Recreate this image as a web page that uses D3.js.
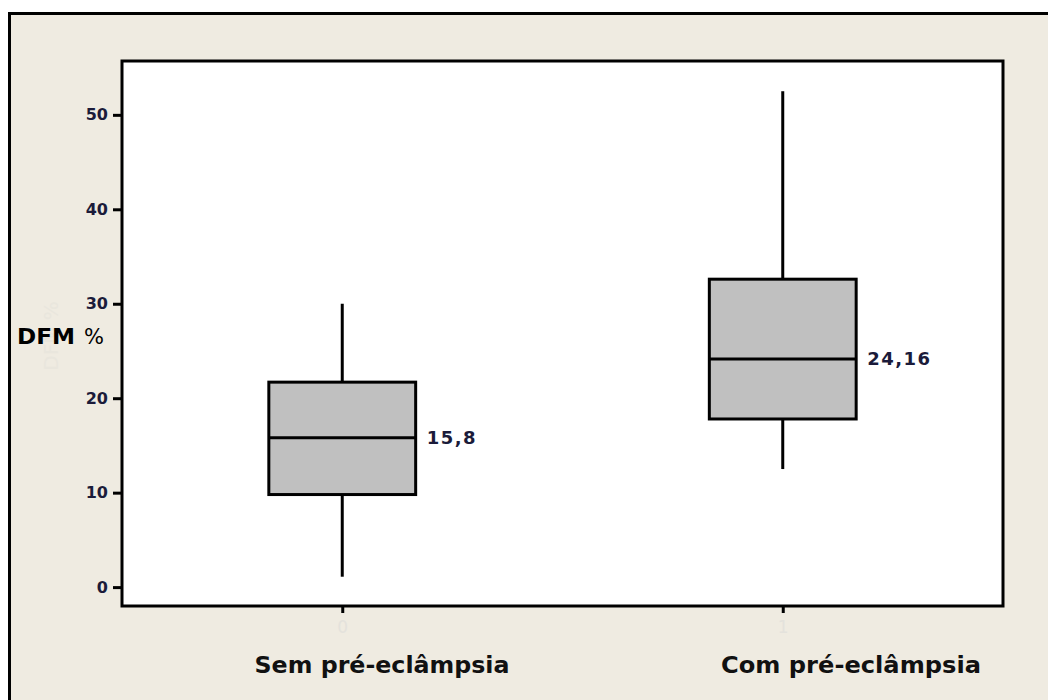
<!DOCTYPE html>
<html lang="pt">
<head>
<meta charset="utf-8">
<title>DFM % por grupo</title>
<script src="https://cdn.jsdelivr.net/npm/d3@7"></script>
<style>
  html, body { margin: 0; padding: 0; background: #ffffff; }
  svg { display: block; }
</style>
</head>
<body>
<div id="chart"></div>
<script>
// ── Data ───────────────────────────────────────────────────────────────────
const categories   = ['0', '1'];
const groupNames   = ['Sem pré-eclâmpsia', 'Com pré-eclâmpsia'];
const whiskerLow   = [1.1, 12.5];
const quartile1    = [9.8, 17.8];
const medians      = [15.8, 24.16];
const quartile3    = [21.7, 32.6];
const whiskerHigh  = [30.0, 52.5];
const yTicks       = [0, 10, 20, 30, 40, 50];

// ── Layout ─────────────────────────────────────────────────────────────────
const WIDTH = 1048, HEIGHT = 700;
const PLOT = { left: 122, top: 61, right: 1003, bottom: 606 };
const FRAME = { left: 9.5, top: 13.5 };
const BG = '#efebe1', BOX_FILL = '#c0c0c0', INK = '#000000', LABEL_INK = '#1b1b3a';
const FONT = 'Tahoma, "DejaVu Sans", Verdana, sans-serif';

const svg = d3.select('#chart').append('svg')
  .attr('width', WIDTH).attr('height', HEIGHT);

// outer panel (its right and bottom edges run past the picture)
svg.append('rect')
  .attr('x', FRAME.left).attr('y', FRAME.top)
  .attr('width', WIDTH + 20).attr('height', HEIGHT + 20)
  .attr('fill', BG).attr('stroke', INK).attr('stroke-width', 3);

// plot area
svg.append('rect')
  .attr('x', PLOT.left).attr('y', PLOT.top)
  .attr('width', PLOT.right - PLOT.left).attr('height', PLOT.bottom - PLOT.top)
  .attr('fill', '#ffffff');

const x = d3.scalePoint().domain(categories).range([PLOT.left, PLOT.right]).padding(0.5);
const y = d3.scaleLinear().domain([-2, 55.7]).range([PLOT.bottom, PLOT.top]);
const boxWidth = x.step() / 3;

// y axis: ticks and labels
const yAxis = svg.append('g')
  .attr('transform', `translate(${PLOT.left},0)`)
  .call(d3.axisLeft(y).tickValues(yTicks).tickSize(9).tickPadding(5));
yAxis.select('.domain').remove();
yAxis.selectAll('.tick line').attr('stroke', INK).attr('stroke-width', 3);
yAxis.selectAll('.tick text')
  .attr('font-family', FONT).attr('font-size', 16).attr('font-weight', 700)
  .attr('fill', LABEL_INK);

// x axis: the category codes are drawn almost invisibly
const xAxis = svg.append('g')
  .attr('transform', `translate(0,${PLOT.bottom})`)
  .call(d3.axisBottom(x).tickSize(7).tickPadding(8));
xAxis.select('.domain').remove();
xAxis.selectAll('.tick line').attr('stroke', INK).attr('stroke-width', 3);
xAxis.selectAll('.tick text')
  .attr('font-family', FONT).attr('font-size', 17)
  .attr('fill', '#e4e2dc');

// group names under the codes
const nameX = [382, 851];
const nameLength = [255, 260];
svg.selectAll('text.group-name').data(groupNames).join('text')
  .attr('class', 'group-name')
  .attr('x', (d, i) => nameX[i]).attr('y', 673)
  .attr('text-anchor', 'middle')
  .attr('font-family', FONT).attr('font-size', 23).attr('font-weight', 700)
  .attr('textLength', (d, i) => nameLength[i]).attr('lengthAdjust', 'spacingAndGlyphs')
  .attr('fill', '#111111')
  .text(d => d);

// y label with its faint rotated ghost
svg.append('text')
  .attr('transform', 'translate(58,336) rotate(-90)')
  .attr('text-anchor', 'middle')
  .attr('font-family', FONT).attr('font-size', 20)
  .attr('fill', '#e9e6dd')
  .text('DFM %');
const yLabel = svg.append('text')
  .attr('x', 17).attr('y', 344)
  .attr('font-family', FONT).attr('fill', '#000000');
yLabel.append('tspan').attr('font-size', 22).attr('font-weight', 700)
  .attr('textLength', 58).attr('lengthAdjust', 'spacingAndGlyphs').text('DFM');
yLabel.append('tspan').attr('x', 84).attr('font-size', 21).text('%');

// boxplots
const boxes = categories.map((c, i) => ({
  cat: c, lo: whiskerLow[i], q1: quartile1[i], med: medians[i], q3: quartile3[i], hi: whiskerHigh[i]
}));

const box = svg.selectAll('g.box').data(boxes).join('g').attr('class', 'box');

box.append('line')
  .attr('x1', d => x(d.cat)).attr('x2', d => x(d.cat))
  .attr('y1', d => y(d.hi)).attr('y2', d => y(d.q3))
  .attr('stroke', INK).attr('stroke-width', 3);
box.append('line')
  .attr('x1', d => x(d.cat)).attr('x2', d => x(d.cat))
  .attr('y1', d => y(d.q1)).attr('y2', d => y(d.lo))
  .attr('stroke', INK).attr('stroke-width', 3);
box.append('rect')
  .attr('x', d => x(d.cat) - boxWidth / 2).attr('width', boxWidth)
  .attr('y', d => y(d.q3)).attr('height', d => y(d.q1) - y(d.q3))
  .attr('fill', BOX_FILL).attr('stroke', INK).attr('stroke-width', 3);
box.append('line')
  .attr('x1', d => x(d.cat) - boxWidth / 2).attr('x2', d => x(d.cat) + boxWidth / 2)
  .attr('y1', d => y(d.med)).attr('y2', d => y(d.med))
  .attr('stroke', INK).attr('stroke-width', 3);

// median value next to each box, with a decimal comma
box.append('text')
  .attr('x', d => x(d.cat) + boxWidth / 2 + 11).attr('y', d => y(d.med))
  .attr('dy', '0.35em')
  .attr('font-family', FONT).attr('font-size', 18).attr('font-weight', 700)
  .attr('letter-spacing', 1.5)
  .attr('fill', LABEL_INK)
  .text(d => String(d.med).replace('.', ','));

// plot border on top
svg.append('rect')
  .attr('x', PLOT.left).attr('y', PLOT.top)
  .attr('width', PLOT.right - PLOT.left).attr('height', PLOT.bottom - PLOT.top)
  .attr('fill', 'none').attr('stroke', INK).attr('stroke-width', 3);
</script>
</body>
</html>
